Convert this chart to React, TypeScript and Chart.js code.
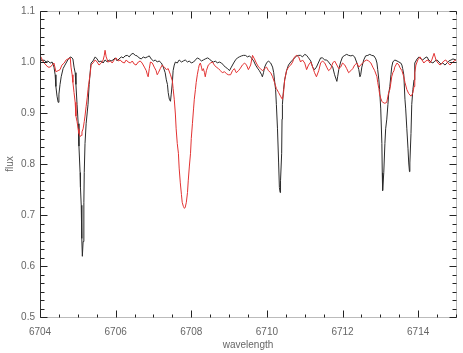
import React, { useEffect, useRef } from 'react';
import { Chart, registerables } from 'chart.js';

Chart.register(...registerables);

// ---- data ----
const blackWave = [
  6704.00, 6704.05, 6704.11, 6704.16, 6704.21, 6704.27, 6704.32, 6704.37, 6704.40, 6704.42,
  6704.45, 6704.48, 6704.50, 6704.53, 6704.56, 6704.61, 6704.66, 6704.72, 6704.77, 6704.82,
  6704.87, 6704.90, 6704.93, 6704.95, 6704.98, 6705.01, 6705.03, 6705.06, 6705.07, 6705.09,
  6705.10, 6705.11, 6705.12, 6705.14, 6705.16, 6705.17, 6705.19, 6705.22, 6705.25, 6705.27,
  6705.30, 6705.33, 6705.35, 6705.40, 6705.46, 6705.51, 6705.56, 6705.62, 6705.67, 6705.72,
  6705.78, 6705.83, 6705.88, 6705.93, 6705.99, 6706.04, 6706.09, 6706.15, 6706.20, 6706.25,
  6706.31, 6706.36, 6706.41, 6706.46, 6706.52, 6706.57, 6706.62, 6706.68, 6706.73, 6706.78,
  6706.84, 6706.89, 6706.94, 6707.00, 6707.05, 6707.10, 6707.15, 6707.21, 6707.26, 6707.31,
  6707.34, 6707.37, 6707.39, 6707.42, 6707.45, 6707.47, 6707.50, 6707.52, 6707.55, 6707.58,
  6707.63, 6707.68, 6707.74, 6707.79, 6707.84, 6707.90, 6707.95, 6708.00, 6708.06, 6708.11,
  6708.16, 6708.21, 6708.27, 6708.32, 6708.37, 6708.43, 6708.48, 6708.53, 6708.59, 6708.64,
  6708.69, 6708.74, 6708.80, 6708.85, 6708.90, 6708.96, 6709.01, 6709.06, 6709.12, 6709.17,
  6709.22, 6709.27, 6709.33, 6709.38, 6709.43, 6709.49, 6709.54, 6709.59, 6709.65, 6709.70,
  6709.75, 6709.80, 6709.86, 6709.88, 6709.91, 6709.94, 6709.99, 6710.04, 6710.10, 6710.15,
  6710.18, 6710.20, 6710.23, 6710.25, 6710.28, 6710.31, 6710.33, 6710.35, 6710.36, 6710.39,
  6710.40, 6710.41, 6710.44, 6710.47, 6710.52, 6710.57, 6710.63, 6710.68, 6710.73, 6710.79,
  6710.84, 6710.89, 6710.94, 6711.00, 6711.05, 6711.10, 6711.16, 6711.21, 6711.26, 6711.31,
  6711.37, 6711.42, 6711.47, 6711.53, 6711.58, 6711.63, 6711.69, 6711.74, 6711.79, 6711.85,
  6711.87, 6711.90, 6711.95, 6712.00, 6712.06, 6712.11, 6712.16, 6712.22, 6712.27, 6712.32,
  6712.38, 6712.43, 6712.46, 6712.48, 6712.51, 6712.56, 6712.61, 6712.67, 6712.72, 6712.77,
  6712.83, 6712.88, 6712.91, 6712.93, 6712.96, 6712.98, 6713.01, 6713.04, 6713.05, 6713.06,
  6713.09, 6713.12, 6713.14, 6713.17, 6713.20, 6713.22, 6713.25, 6713.28, 6713.30, 6713.33,
  6713.38, 6713.44, 6713.49, 6713.54, 6713.57, 6713.59, 6713.62, 6713.65, 6713.67, 6713.70,
  6713.73, 6713.75, 6713.77, 6713.78, 6713.81, 6713.83, 6713.86, 6713.89, 6713.91, 6713.97,
  6714.02, 6714.07, 6714.12, 6714.18, 6714.23, 6714.28, 6714.34, 6714.39, 6714.44, 6714.50,
  6714.55, 6714.60, 6714.65, 6714.71, 6714.76, 6714.81, 6714.87, 6714.92, 6715.00,
];
const blackFlux = [
  1.008, 1.002, 1.004, 1.000, 1.002, 0.998, 1.000, 0.990, 0.975, 0.952,
  0.933, 0.921, 0.937, 0.956, 0.971, 0.987, 0.994, 1.002, 1.008, 1.010,
  1.006, 0.990, 0.979, 0.956, 0.917, 0.879, 0.835, 0.783, 0.754, 0.719,
  0.687, 0.654, 0.619, 0.648, 0.725, 0.783, 0.840, 0.879, 0.902, 0.917,
  0.956, 0.983, 0.998, 1.002, 1.010, 1.006, 1.000, 1.002, 0.998, 1.004,
  1.000, 1.004, 1.002, 1.004, 1.008, 1.002, 1.006, 1.010, 1.008, 1.012,
  1.013, 1.010, 1.015, 1.017, 1.013, 1.012, 1.008, 1.006, 1.010, 1.008,
  1.010, 1.012, 1.006, 1.002, 1.004, 1.000, 1.002, 0.998, 0.990, 0.979,
  0.965, 0.956, 0.940, 0.927, 0.923, 0.937, 0.960, 0.983, 0.994, 1.000,
  0.998, 1.004, 1.000, 1.002, 1.004, 1.000, 1.002, 0.998, 1.000, 1.004,
  1.008, 1.006, 1.002, 1.004, 1.006, 1.008, 1.006, 1.002, 1.000, 1.002,
  0.998, 1.000, 0.998, 0.994, 0.990, 0.987, 0.983, 0.990, 0.998, 1.004,
  1.008, 1.010, 1.012, 1.013, 1.013, 1.010, 1.012, 1.008, 1.002, 0.994,
  0.988, 0.983, 0.975, 0.971, 0.979, 0.990, 0.998, 1.002, 0.998, 0.990,
  0.979, 0.965, 0.946, 0.917, 0.869, 0.802, 0.754, 0.744, 0.767, 0.821,
  0.888, 0.917, 0.946, 0.965, 0.983, 0.994, 1.000, 1.004, 1.008, 1.012,
  1.013, 1.013, 1.010, 1.015, 1.013, 1.008, 1.002, 0.990, 0.985, 0.990,
  1.000, 1.008, 1.008, 1.004, 1.004, 1.000, 0.994, 0.990, 0.975, 0.962,
  0.971, 0.985, 1.000, 1.010, 1.013, 1.015, 1.013, 1.012, 1.013, 1.010,
  0.998, 0.985, 0.971, 0.975, 0.990, 1.004, 1.012, 1.013, 1.015, 1.013,
  1.012, 1.006, 0.998, 0.985, 0.965, 0.946, 0.908, 0.840, 0.783, 0.748,
  0.783, 0.840, 0.869, 0.888, 0.917, 0.937, 0.952, 0.975, 0.990, 1.000,
  1.004, 1.002, 1.000, 0.998, 0.994, 0.987, 0.975, 0.927, 0.908, 0.869,
  0.831, 0.802, 0.785, 0.802, 0.860, 0.917, 0.946, 0.965, 0.998, 1.006,
  1.010, 1.006, 1.004, 1.008, 1.010, 1.004, 1.000, 0.998, 1.002, 1.004,
  1.000, 0.996, 0.998, 0.994, 0.998, 1.002, 1.004, 1.006, 1.004,
];

const redWave = [
  6704.00, 6704.05, 6704.11, 6704.16, 6704.21, 6704.27, 6704.32, 6704.37, 6704.42, 6704.48,
  6704.53, 6704.58, 6704.64, 6704.69, 6704.74, 6704.80, 6704.82, 6704.85, 6704.87, 6704.90,
  6704.93, 6704.95, 6704.98, 6705.01, 6705.03, 6705.06, 6705.09, 6705.11, 6705.14, 6705.17,
  6705.19, 6705.22, 6705.25, 6705.27, 6705.30, 6705.33, 6705.35, 6705.40, 6705.46, 6705.51,
  6705.56, 6705.62, 6705.67, 6705.70, 6705.72, 6705.75, 6705.80, 6705.86, 6705.91, 6705.96,
  6706.01, 6706.07, 6706.12, 6706.17, 6706.23, 6706.28, 6706.33, 6706.39, 6706.44, 6706.49,
  6706.54, 6706.60, 6706.65, 6706.70, 6706.76, 6706.81, 6706.84, 6706.86, 6706.89, 6706.92,
  6706.97, 6707.02, 6707.07, 6707.10, 6707.13, 6707.18, 6707.23, 6707.29, 6707.34, 6707.39,
  6707.45, 6707.50, 6707.52, 6707.55, 6707.58, 6707.60, 6707.63, 6707.66, 6707.68, 6707.71,
  6707.74, 6707.76, 6707.79, 6707.82, 6707.84, 6707.87, 6707.90, 6707.92, 6707.95, 6707.98,
  6708.00, 6708.03, 6708.06, 6708.08, 6708.11, 6708.13, 6708.16, 6708.19, 6708.21, 6708.24,
  6708.27, 6708.29, 6708.32, 6708.35, 6708.37, 6708.40, 6708.45, 6708.51, 6708.56, 6708.61,
  6708.66, 6708.72, 6708.77, 6708.82, 6708.88, 6708.93, 6708.98, 6709.04, 6709.09, 6709.14,
  6709.19, 6709.25, 6709.30, 6709.35, 6709.41, 6709.46, 6709.51, 6709.57, 6709.62, 6709.67,
  6709.72, 6709.78, 6709.83, 6709.88, 6709.94, 6709.99, 6710.04, 6710.10, 6710.15, 6710.20,
  6710.25, 6710.31, 6710.36, 6710.39, 6710.41, 6710.44, 6710.47, 6710.52, 6710.57, 6710.63,
  6710.68, 6710.73, 6710.79, 6710.84, 6710.89, 6710.94, 6711.00, 6711.05, 6711.10, 6711.16,
  6711.21, 6711.26, 6711.31, 6711.37, 6711.42, 6711.47, 6711.53, 6711.58, 6711.63, 6711.69,
  6711.74, 6711.79, 6711.85, 6711.90, 6711.95, 6712.00, 6712.06, 6712.11, 6712.16, 6712.22,
  6712.27, 6712.32, 6712.38, 6712.43, 6712.48, 6712.53, 6712.59, 6712.64, 6712.69, 6712.75,
  6712.80, 6712.85, 6712.91, 6712.93, 6712.96, 6712.98, 6713.01, 6713.04, 6713.06, 6713.12,
  6713.17, 6713.20, 6713.22, 6713.25, 6713.28, 6713.30, 6713.33, 6713.36, 6713.38, 6713.44,
  6713.49, 6713.51, 6713.57, 6713.62, 6713.65, 6713.70, 6713.75, 6713.81, 6713.83, 6713.86,
  6713.89, 6713.91, 6713.94, 6713.99, 6714.05, 6714.10, 6714.15, 6714.20, 6714.26, 6714.31,
  6714.36, 6714.42, 6714.47, 6714.52, 6714.58, 6714.63, 6714.68, 6714.73, 6714.79, 6714.84,
  6714.89, 6714.95, 6715.00,
];
const redFlux = [
  1.013, 1.006, 0.998, 0.994, 0.990, 0.990, 0.994, 0.998, 0.981, 0.983,
  0.985, 0.994, 0.998, 1.004, 1.006, 1.008, 0.990, 0.975, 0.960, 0.940,
  0.921, 0.894, 0.883, 0.869, 0.860, 0.854, 0.856, 0.863, 0.869, 0.883,
  0.894, 0.913, 0.931, 0.946, 0.963, 0.979, 0.994, 0.998, 1.004, 1.000,
  0.994, 0.998, 1.004, 1.013, 1.023, 1.010, 1.000, 1.002, 0.998, 1.004,
  1.008, 1.002, 1.004, 1.000, 0.998, 1.004, 1.000, 0.998, 1.002, 0.996,
  0.994, 1.000, 1.002, 0.998, 0.990, 0.983, 0.975, 0.971, 0.987, 1.000,
  0.998, 0.990, 0.983, 0.975, 0.979, 0.987, 0.994, 0.990, 0.985, 0.987,
  0.975, 0.963, 0.948, 0.927, 0.898, 0.869, 0.840, 0.821, 0.792, 0.763,
  0.740, 0.725, 0.717, 0.713, 0.715, 0.725, 0.744, 0.767, 0.796, 0.821,
  0.850, 0.879, 0.908, 0.927, 0.946, 0.960, 0.975, 0.987, 0.994, 0.998,
  0.990, 0.983, 0.987, 0.979, 0.971, 0.983, 0.994, 0.998, 1.000, 0.994,
  0.990, 0.987, 0.983, 0.979, 0.981, 0.977, 0.975, 0.975, 0.983, 0.987,
  0.979, 0.983, 0.988, 0.994, 0.998, 0.994, 0.985, 0.994, 1.013, 1.006,
  0.998, 0.990, 0.987, 0.983, 0.987, 0.990, 0.983, 0.979, 0.971, 0.960,
  0.948, 0.940, 0.933, 0.929, 0.927, 0.940, 0.965, 0.983, 0.990, 0.994,
  1.000, 1.010, 1.013, 1.010, 1.000, 1.004, 0.998, 0.985, 0.994, 1.000,
  0.990, 0.979, 0.971, 0.983, 0.998, 1.002, 0.998, 0.990, 0.983, 0.987,
  0.998, 1.002, 0.994, 0.987, 0.990, 0.998, 0.994, 0.987, 0.979, 0.983,
  0.987, 0.994, 0.998, 0.990, 0.994, 0.998, 1.002, 1.004, 1.002, 0.998,
  0.990, 0.983, 0.971, 0.960, 0.948, 0.937, 0.929, 0.923, 0.921, 0.919,
  0.921, 0.933, 0.940, 0.946, 0.960, 0.971, 0.979, 0.983, 0.990, 0.998,
  0.994, 0.990, 0.983, 0.971, 0.960, 0.946, 0.938, 0.933, 0.935, 0.940,
  0.952, 0.979, 0.994, 1.004, 1.010, 1.004, 0.998, 1.002, 1.004, 0.998,
  1.004, 1.017, 1.004, 0.998, 0.994, 0.998, 1.002, 1.004, 0.998, 0.994,
  0.998, 1.002, 1.004,
];

const xMajorTicks = [6704, 6706, 6708, 6710, 6712, 6714];
const xTickLabels = ['6704', '6706', '6708', '6710', '6712', '6714'];
const xMinorStep = 0.5;
const yMajorTicks = [0.5, 0.6, 0.7, 0.8, 0.9, 1.0, 1.1];
const yTickLabels = ['0.5', '0.6', '0.7', '0.8', '0.9', '1.0', '1.1'];
const yMinorPerMajor = 6;

const X_MIN = 6704;
const X_MAX = 6715;
const Y_MIN = 0.5;
const Y_MAX = 1.1;

const FONT = '"Liberation Sans", Arial, sans-serif';
const TEXT_COLOR = '#666';

const boxTicks = {
  id: 'boxTicks',
  afterDraw(chart: any) {
    const ctx: CanvasRenderingContext2D = chart.ctx;
    const x = chart.scales.x;
    const y = chart.scales.y;
    const L = Math.round(x.getPixelForValue(X_MIN)) + 0.5;
    const R = Math.round(x.getPixelForValue(X_MAX)) + 0.5;
    const T = Math.round(y.getPixelForValue(Y_MAX)) + 0.5;
    const B = Math.round(y.getPixelForValue(Y_MIN)) + 0.5;
    ctx.save();
    ctx.lineWidth = 1;
    // frame
    ctx.strokeStyle = '#bbb';
    ctx.beginPath();
    ctx.moveTo(L, T); ctx.lineTo(R, T);
    ctx.moveTo(R, T); ctx.lineTo(R, B);
    ctx.moveTo(L, B); ctx.lineTo(R, B);
    ctx.stroke();
    ctx.strokeStyle = '#333';
    ctx.beginPath();
    ctx.moveTo(L, T); ctx.lineTo(L, B);
    ctx.stroke();
    // x ticks (bottom and top, pointing inward)
    ctx.strokeStyle = '#222';
    ctx.beginPath();
    const nX = Math.round((X_MAX - X_MIN) / xMinorStep);
    for (let i = 0; i <= nX; i++) {
      const v = X_MIN + i * xMinorStep;
      const major = xMajorTicks.some((m) => Math.abs(m - v) < 1e-6);
      const len = major ? 7 : 3;
      const px = Math.round(x.getPixelForValue(v)) + 0.5;
      ctx.moveTo(px, B);
      ctx.lineTo(px, B - len);
      ctx.moveTo(px, T);
      ctx.lineTo(px, T + len);
    }
    ctx.stroke();
    // y ticks (left and right, pointing inward)
    ctx.beginPath();
    for (let j = 0; j < yMajorTicks.length; j++) {
      const v0 = yMajorTicks[j];
      const hasNext = j + 1 < yMajorTicks.length;
      const v1 = hasNext ? yMajorTicks[j + 1] : v0;
      const last = hasNext ? yMinorPerMajor - 1 : 0;
      for (let k = 0; k <= last; k++) {
        const v = v0 + ((v1 - v0) * k) / yMinorPerMajor;
        const len = k === 0 ? 7 : 4;
        const py = Math.round(y.getPixelForValue(v)) + 0.5;
        ctx.moveTo(L, py);
        ctx.lineTo(L + len, py);
        ctx.moveTo(R, py);
        ctx.lineTo(R - len, py);
      }
    }
    ctx.stroke();
    ctx.restore();
  },
};

export default function App() {
  const ref = useRef<HTMLCanvasElement | null>(null);

  useEffect(() => {
    const canvas = ref.current;
    if (!canvas) return;
    const chart = new Chart(canvas, {
      type: 'line',
      data: {
        datasets: [
          {
            label: 'model',
            data: redWave.map((w, i) => ({ x: w, y: redFlux[i] })),
            borderColor: 'rgb(226,50,50)',
            borderWidth: 1,
            pointRadius: 0,
            tension: 0,
            fill: false,
          },
          {
            label: 'observed',
            data: blackWave.map((w, i) => ({ x: w, y: blackFlux[i] })),
            borderColor: '#2a2a2a',
            borderWidth: 1,
            pointRadius: 0,
            tension: 0,
            fill: false,
          },
        ],
      },
      options: {
        animation: false,
        responsive: false,
        devicePixelRatio: 1,
        events: [],
        layout: { padding: { top: 6, right: 7, left: 0, bottom: 0 } },
        plugins: {
          legend: { display: false },
          tooltip: { enabled: false },
        },
        scales: {
          x: {
            type: 'linear',
            min: X_MIN,
            max: X_MAX,
            grid: { display: false, drawTicks: false },
            border: { display: false },
            afterBuildTicks: (scale: any) => {
              scale.ticks = xMajorTicks.map((v) => ({ value: v }));
            },
            afterFit: (scale: any) => {
              scale.height = 36;
            },
            ticks: {
              autoSkip: false,
              maxRotation: 0,
              padding: 9,
              color: TEXT_COLOR,
              font: { family: FONT, size: 10 },
              callback: (_v: any, i: number) => xTickLabels[i],
            },
            title: {
              display: true,
              text: 'wavelength',
              color: TEXT_COLOR,
              font: { family: FONT, size: 10 },
              padding: { top: 0, bottom: 2 },
            },
          },
          y: {
            type: 'linear',
            min: Y_MIN,
            max: Y_MAX,
            grid: { display: false, drawTicks: false },
            border: { display: false },
            afterBuildTicks: (scale: any) => {
              scale.ticks = yMajorTicks.map((v) => ({ value: v }));
            },
            afterFit: (scale: any) => {
              scale.width = 40;
            },
            ticks: {
              padding: 5,
              color: TEXT_COLOR,
              font: { family: FONT, size: 10 },
              callback: (_v: any, i: number) => yTickLabels[i],
            },
            title: {
              display: true,
              text: 'flux',
              color: TEXT_COLOR,
              font: { family: FONT, size: 10 },
              padding: { top: 4, bottom: 0 },
            },
          },
        },
      },
      plugins: [boxTicks],
    });
    return () => chart.destroy();
  }, []);

  return (
    <div style={{ position: 'fixed', left: 0, top: 0, width: 463, height: 353, background: '#fff' }}>
      <canvas ref={ref} width={463} height={353} style={{ display: 'block' }} />
    </div>
  );
}
